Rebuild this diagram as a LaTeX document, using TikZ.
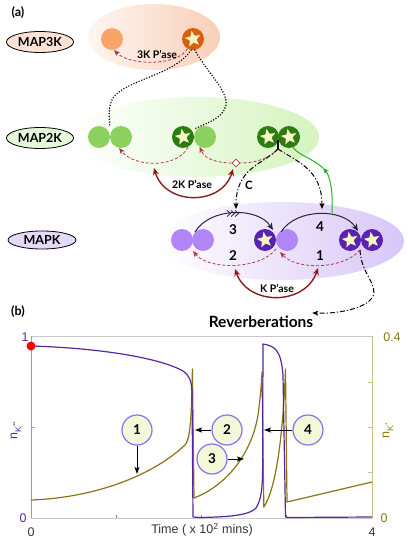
\documentclass[tikz,border=0pt]{standalone}
\usepackage{fontspec}
\setmainfont{Lato}
\newfontfamily\plotfont{Liberation Sans}
\usetikzlibrary{arrows.meta,shapes.geometric}
\definecolor{kkklight}{HTML}{F9A468}
\definecolor{kkkdark}{HTML}{D9600F}
\definecolor{kkkbg}{HTML}{F9CFB8}
\definecolor{kklight}{HTML}{8CD15E}
\definecolor{kkdark}{HTML}{2E7B12}
\definecolor{kkbg}{HTML}{D4F4BE}
\definecolor{klight}{HTML}{B386F7}
\definecolor{kdark}{HTML}{5A22B0}
\definecolor{kbg}{HTML}{D8C6F8}
\definecolor{starfill}{HTML}{F4F6C4}
\definecolor{dashred}{HTML}{B23A48}
\definecolor{solidred}{HTML}{8C1C1C}
\definecolor{arrowink}{HTML}{2A2440}
\definecolor{greenarrow}{HTML}{22B522}
\definecolor{labthree}{HTML}{FCE3D6}
\definecolor{labtwo}{HTML}{E5F8DA}
\definecolor{labone}{HTML}{E4DAF8}
\definecolor{plotpurple}{HTML}{57279E}
\definecolor{plotolive}{HTML}{8A7414}
\definecolor{axpurple}{HTML}{A690D2}
\definecolor{axolive}{HTML}{CDBF88}
\definecolor{axgray}{HTML}{C8C8C8}
\definecolor{calloutfill}{HTML}{F3F8D8}
\definecolor{calloutline}{HTML}{8B6DF0}
\begin{document}
\begin{tikzpicture}[x=1pt,y=-1pt,
 labell/.style={ellipse, draw=black, line width=0.8pt, minimum width=67pt, minimum height=21pt, inner sep=0pt, font=\bfseries\fontsize{12.5}{13}\selectfont},
 ball/.style={circle, minimum size=22pt, inner sep=0pt},
 starn/.style={star, star points=5, star point ratio=2.3, fill=starfill, inner sep=0pt, minimum size=16.5pt, rotate=10},
 redd/.style={dashred, line width=0.8pt, dash pattern=on 3pt off 2pt, -{Stealth[length=6pt,width=5pt,inset=1.5pt]}},
 reddash/.style={dashred, line width=0.8pt, dash pattern=on 3pt off 2pt},
 reds/.style={solidred, line width=1.4pt, {Stealth[length=7pt,width=6pt]}-{Stealth[length=7pt,width=6pt]}},
 blk/.style={arrowink, line width=1pt, -{Stealth[length=7pt,width=6pt,inset=2pt]}},
 dashdot/.style={black, line width=1pt, dash pattern=on 5pt off 2pt on 1.2pt off 2pt, -{Stealth[length=6pt,width=5pt,inset=1.5pt]}},
 dots/.style={black, line width=1.6pt, line cap=round, dash pattern=on 0pt off 2.8pt},
 lbl/.style={font=\bfseries\fontsize{10.5}{11}\selectfont, inner sep=1pt},
 num/.style={font=\bfseries\fontsize{13.5}{14}\selectfont, inner sep=1pt},
 callout/.style={circle, draw=calloutline, line width=1.2pt, fill=calloutfill, minimum size=30pt, inner sep=0pt, font=\bfseries\fontsize{13.5}{14}\selectfont},
 ptr/.style={black, line width=1pt, -{Stealth[length=7pt,width=5pt,inset=1.5pt]}},
 ticklab/.style={font=\plotfont\fontsize{12.5}{13}\selectfont, inner sep=0pt},
]
\useasboundingbox (0,0) rectangle (407,540);
% ---------- panel (a)
\node[font=\bfseries\fontsize{12.5}{13}\selectfont] (pa) at (18,13) {(a)};
\shade[left color=kkkbg!20, right color=kkkbg] (154,37) ellipse [x radius=66, y radius=33];
\shade[left color=white, right color=kkbg] (197,137) ellipse [x radius=122, y radius=40];
\shade[left color=white, right color=kbg] (282,241) ellipse [x radius=122, y radius=39];

\node[labell, fill=labthree] (l3) at (40,42) {MAP3K};
\node[labell, fill=labtwo] (l2) at (40,138) {MAP2K};
\node[labell, fill=labone, minimum height=18pt, minimum width=68pt] (l1) at (42,240) {MAPK};

% MAP3K
\node[ball, fill=kkklight] (a0) at (112,39) {};
\node[ball, fill=kkkdark] (a1) at (193,39) {};
\node[starn] (a1s) at (a1) {};
% MAP2K
\node[ball, fill=kklight] (b1) at (99,137) {};
\node[ball, fill=kklight] (b2) at (121,137) {};
\node[ball, fill=kklight] (b4) at (205,137) {};
\node[ball, fill=kkdark] (b3) at (183,137) {};
\node[starn] (b3s) at (b3) {};
\node[ball, fill=kkdark] (b5) at (268,137) {};
\node[starn] (b5s) at (b5) {};
\node[ball, fill=kkdark] (b6) at (289,137) {};
\node[starn] (b6s) at (b6) {};
% MAPK
\node[ball, fill=klight] (c1) at (182,240) {};
\node[ball, fill=klight] (c2) at (203,240) {};
\node[ball, fill=klight] (c4) at (287,240) {};
\node[ball, fill=kdark] (c3) at (265,240) {};
\node[starn] (c3s) at (c3) {};
\node[ball, fill=kdark] (c5) at (350,240) {};
\node[starn] (c5s) at (c5) {};
\node[ball, fill=kdark] (c6) at (372,240) {};
\node[starn] (c6s) at (c6) {};

% MAP3K phosphatase
\draw[redd] (a1.240) .. controls (178,66) and (130,66) .. (a0.-80);
\node[lbl] (p3k) at (157,54) {3K P'ase};

% dotted kinase actions
\coordinate (bj12) at (110,127);
\coordinate (bj34) at (194,129);
\draw[dots] (a1.-100) .. controls (175,75) and (125,80) .. (113,98) .. controls (108,106) and (109,118) .. (bj12);
\draw[dots] (a1.-80) .. controls (205,70) and (228,90) .. (226,105) .. controls (224,118) and (205,124) .. (bj34);

% MAP2K phosphatase
\coordinate (j2) at (278,149);
\coordinate (j2top) at (278,140);
\node[diamond, draw=dashred, fill=white, line width=0.8pt, minimum size=8pt, inner sep=0pt] (dia) at (236,163) {};
\draw[redd] (b3.-63) .. controls (178,168) and (135,168) .. (b2.-100);
\draw[reddash] (j2) .. controls (268,160) and (252,163) .. (dia.east);
\draw[redd] (dia.west) .. controls (220,163) and (205,160) .. (b4.-118);
\coordinate (k2a) at (154,168);
\coordinate (k2b) at (233,169);
\draw[reds] (k2a) .. controls (165,206) and (222,206) .. (k2b);
\node[lbl] (p2k) at (192,184) {2K P'ase};

% MAP2K-PP actions
\draw[black, line width=1.2pt] (j2top) -- (j2);
\coordinate (cin) at (236,209);
\coordinate (kin) at (322,209);
\draw[dashdot] (j2) .. controls (262,165) and (236,168) .. (cin);
\draw[dashdot] (j2) .. controls (298,162) and (322,170) .. (kin);
\node[lbl, font=\bfseries\fontsize{11.5}{12}\selectfont] (cl) at (249,185) {C};

% green feedback
\coordinate (gstart) at (332,213);
\coordinate (gmid) at (323,168);
\draw[greenarrow, line width=1pt, -{Stealth[length=6pt,width=5pt,inset=1.5pt]}] (gstart) .. controls (333,190) and (330,176) .. (gmid);
\draw[greenarrow, line width=1pt] (gmid) .. controls (312,158) and (300,156) .. (b6.-70);

% MAPK kinase steps
\coordinate (m1) at (195,232);
\coordinate (m2) at (273,230);
\coordinate (m3) at (281,232);
\coordinate (m4) at (358,231);
\draw[blk] (m1) .. controls (210,207) and (258,207) .. (m2);
\draw[blk] (m3) .. controls (296,208) and (343,208) .. (m4);
\foreach \i in {0,1,2} {
  \draw[arrowink, line width=0.8pt] (227+4*\i,210.5) -- (230.5+4*\i,213.5) -- (227+4*\i,216.5);
}
\node[num] (n3) at (233,230) {3};
\node[num] (n4) at (320,227) {4};

% MAPK phosphatase steps
\coordinate (d1) at (276,249);
\coordinate (d2) at (193,251);
\coordinate (d3) at (360,250);
\coordinate (d4) at (280,252);
\draw[redd] (d1) .. controls (260,270) and (208,270) .. (d2);
\draw[redd] (d3) .. controls (343,270) and (296,270) .. (d4);
\node[num] (n2) at (233,256) {2};
\node[num] (n1) at (320,256) {1};
\coordinate (ka) at (235,269);
\coordinate (kb) at (318,268);
\draw[reds] (ka) .. controls (248,306) and (305,306) .. (kb);
\node[lbl] (pk) at (277,288) {K P'ase};

% reverberations
\node[font=\bfseries\fontsize{15.5}{16}\selectfont, inner sep=3pt] (rev) at (261,322) {Reverberations};
\draw[dashdot] (d3) .. controls (361,275) and (380,285) .. (372,298) .. controls (365,308) and (340,314) .. (rev.10);

% ---------- panel (b)
\node[font=\bfseries\fontsize{12.5}{13}\selectfont] (pb) at (18,312) {(b)};
\draw[axgray, line width=0.6pt] (31,336) -- (372,336);
\draw[axgray, line width=0.6pt] (31,518) -- (372,518);
\draw[axpurple, line width=1pt] (31,336) -- (31,518);
\draw[axolive, line width=1pt] (372,336) -- (372,518);
\draw[axpurple, line width=0.8pt] (31,427) -- (35,427);
\foreach \yy in {382,427,472} { \draw[axolive, line width=0.8pt] (372,\yy) -- (368,\yy); }
\foreach \xx in {116.25,201.5,286.75} { \draw[gray, line width=0.6pt] (\xx,518) -- (\xx,515); }

\node[ticklab, text=plotpurple] (ly1) at (25,337) {1};
\node[ticklab, text=plotpurple] (ly0) at (23,518) {0};
\node[ticklab, text=plotolive] (ry4) at (392,337) {0.4};
\node[ticklab, text=plotolive] (ry0) at (384,518) {0};
\node[ticklab, text=black!80] (bx0) at (31,532) {0};
\node[ticklab, text=black!80] (bx4) at (372,532) {4};
\node[ticklab, text=black!80] (tl) at (202,530) {Time ( x 10\textsuperscript{2} mins)};
\node[ticklab, text=plotpurple, rotate=90] (yl) at (16,430) {n\textsubscript{K\textsuperscript{**}}};
\node[ticklab, text=plotolive, rotate=90] (yr) at (388,430) {n\textsubscript{K\textsuperscript{*}}};

\draw[plotolive, line width=1.2pt, line join=round] (31,500) .. controls (90,498) and (150,478) .. (185,445) .. controls (190,440) and (191.6,420) .. (192.4,369) -- (194,498) .. controls (228,485) and (252,452) .. (258,415) .. controls (260,400) and (261.5,385) .. (262,372) -- (263.8,507) .. controls (272,495) and (282,460) .. (285.5,369) -- (287,502) -- (372,482);
\draw[plotpurple, line width=1.2pt, line join=round] (31,346) .. controls (100,348) and (160,358) .. (183,371) .. controls (189,375) and (191.5,380) .. (192,392) -- (193,517) -- (200,517.5) .. controls (230,517) and (250,515) .. (256,508) .. controls (261,500) and (262.3,490) .. (262.6,470) -- (263,344) .. controls (275,346) and (281,350) .. (283,375) -- (285.5,517) -- (288,517.5) -- (372,517);
\node[circle, fill=red, minimum size=9pt, inner sep=0pt] (dot) at (31,346) {};

\node[callout] (q1) at (137,430) {1};
\node[callout] (q2) at (227,430) {2};
\node[callout] (q3) at (212,459) {3};
\node[callout] (q4) at (308,430) {4};
\coordinate (p1) at (137,474);
\coordinate (p2) at (195,430);
\coordinate (p3) at (244,459);
\coordinate (p4) at (264,430);
\draw[ptr] (q1) -- (p1);
\draw[ptr] (q2) -- (p2);
\draw[ptr] (q3) -- (p3);
\draw[ptr] (q4) -- (p4);
\end{tikzpicture}
\end{document}
